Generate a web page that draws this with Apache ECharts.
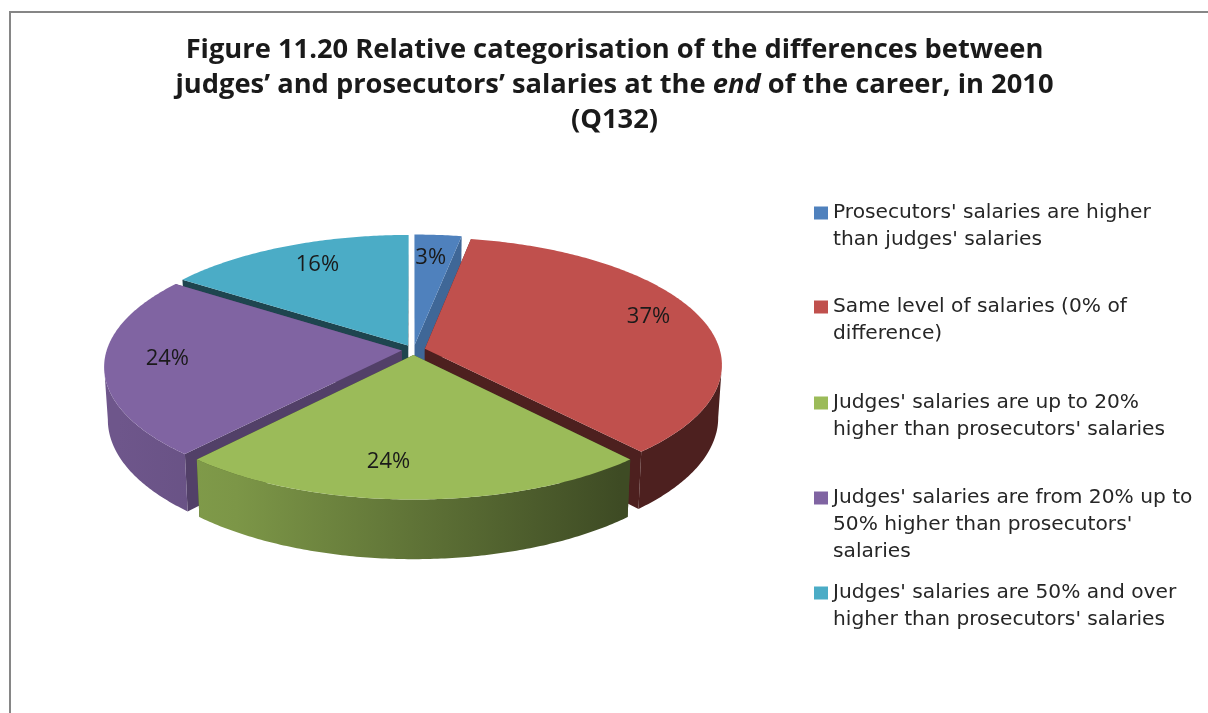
<!DOCTYPE html>
<html><head><meta charset="utf-8">
<style>html,body{margin:0;padding:0;background:#fff}#c{width:1208px;height:713px}</style>
<script src="https://cdn.jsdelivr.net/npm/echarts@6/dist/echarts.min.js"></script>
</head><body><div id="c"></div>
<script>
const titleLines = [
  "Figure 11.20 Relative categorisation of the differences between",
  "judges’ and prosecutors’ salaries at the {i|end} of the career, in 2010",
  "(Q132)"
];
const categories = [
  "Prosecutors' salaries are higher\nthan judges' salaries",
  "Same level of salaries (0% of\ndifference)",
  "Judges' salaries are up to 20%\nhigher than prosecutors' salaries",
  "Judges' salaries are from 20% up to\n50% higher than prosecutors'\nsalaries",
  "Judges' salaries are 50% and over\nhigher than prosecutors' salaries"
];
const values = [3, 37, 24, 24, 16];
const colors = ['#4f81bd', '#c0504d', '#9bbb59', '#8064a2', '#4bacc6'];

// 3D pie projection settings
const CX = 413.5, CY = 350, RX = 295, RY = 125.3, K = 0.1235, EXPLODE = 0.04, DEPTH = 52, SHRINK = 0.012;
const LABEL_R = 0.84;
const LABEL_NUDGE = [[-4, 7], [-8, -4], [-25, -12], [15, -5], [14, 4]];
const LEGEND_FIRST_LINE_Y = [208, 302, 398, 493, 588];
const LEGEND_LINE = 27;
const paintOrder = [4, 0, 3, 1, 2];
const total = values.reduce((a, b) => a + b, 0);

function project(ux, uy, low) {
  const s = 1 / (1 - K * uy);
  const f = low ? 1 - SHRINK : 1;
  return [CX + RX * ux * s * f, CY + RY * uy * s + (low ? DEPTH * s : 0)];
}
function shade(hex, f) {
  const n = parseInt(hex.slice(1), 16);
  const c = [n >> 16, (n >> 8) & 255, n & 255].map(v => Math.round(v * f));
  return 'rgb(' + c.join(',') + ')';
}
function renderSlice(index) {
  return function (params, api) {
    const v = api.value(0);
    let before = 0;
    for (let i = 0; i < index; i++) before += values[i];
    const a0 = before / total * 2 * Math.PI, a1 = (before + v) / total * 2 * Math.PI;
    const mid = (a0 + a1) / 2;
    const ox = EXPLODE * Math.sin(mid), oy = -EXPLODE * Math.cos(mid);
    const unit = a => [ox + Math.sin(a), oy - Math.cos(a)];
    const steps = Math.max(6, Math.ceil((a1 - a0) * 90));
    const topArc = [], wallTop = [], wallLow = [];
    for (let i = 0; i <= steps; i++) {
      const a = a0 + (a1 - a0) * i / steps;
      const p = unit(a);
      topArc.push(project(p[0], p[1], false));
      if (-Math.cos(a) >= K) {          // only the near side of the rim is visible
        wallTop.push(project(p[0], p[1], false));
        wallLow.push(project(p[0], p[1], true));
      }
    }
    const pA = unit(a0), pB = unit(a1);
    const apexTop = project(ox, oy, false), apexLow = project(ox, oy, true);
    const col = colors[index];
    const wallFill = new echarts.graphic.LinearGradient(CX - RX, 0, CX + RX, 0, [
      { offset: 0, color: shade(col, 0.86) },
      { offset: 0.2, color: shade(col, 0.8) },
      { offset: 0.85, color: shade(col, 0.4) },
      { offset: 1, color: shade(col, 0.4) }
    ], true);
    const sideFill = shade(col, index === 0 ? 0.8 : index === 3 ? 0.64 : 0.4);
    const face = (pts, fill) => ({ type: 'polygon', shape: { points: pts }, style: { fill: fill } });
    const lp = [ox + LABEL_R * Math.sin(mid), oy - LABEL_R * Math.cos(mid)];
    const lxy = project(lp[0], lp[1], false);
    const children = [
      face([apexTop, project(pA[0], pA[1], false), project(pA[0], pA[1], true), apexLow], sideFill),
      face([apexTop, project(pB[0], pB[1], false), project(pB[0], pB[1], true), apexLow], sideFill)
    ];
    if (wallTop.length > 1) children.push(face(wallTop.concat(wallLow.slice().reverse()), wallFill));
    children.push(face([apexTop].concat(topArc), col));
    children.push({
      type: 'text',
      x: lxy[0] + LABEL_NUDGE[index][0],
      y: lxy[1] + LABEL_NUDGE[index][1],
      style: {
        text: v + '%', fill: '#1a1a1a', font: '22px "Open Sans"',
        align: 'center', verticalAlign: 'middle'
      }
    });
    return { type: 'group', children: children };
  };
}

const chart = echarts.init(document.getElementById('c'), null, { renderer: 'canvas' });
chart.setOption({
  animation: false,
  backgroundColor: '#fff',
  graphic: [{
    type: 'rect', silent: true,
    shape: { x: 10, y: 12, width: 1400, height: 900 },
    style: { fill: 'none', stroke: '#868686', lineWidth: 2 }
  }],
  title: {
    text: titleLines.join('\n'),
    left: 609.5, top: 28, textAlign: 'center',
    textStyle: {
      fontFamily: 'Open Sans', fontWeight: 'bold', fontSize: 27.3, lineHeight: 35, color: '#1a1a1a',
      rich: { i: { fontFamily: 'Open Sans', fontWeight: 'bold', fontStyle: 'italic', fontSize: 27.3, lineHeight: 35, color: '#1a1a1a' } }
    }
  },
  legend: categories.map((name, i) => {
    const n = name.split('\n').length;
    return {
      data: [name],
      orient: 'vertical',
      left: 809, top: LEGEND_FIRST_LINE_Y[i] - (2 * n - 1) * LEGEND_LINE / 2,
      padding: 5,
      itemWidth: 14, itemHeight: 13, itemGap: 0,
      icon: 'rect',
      selectedMode: false,
      // blank lines above the text keep the swatch level with the first line
      formatter: t => '\n'.repeat(n - 1) + t,
      textStyle: { fontFamily: 'DejaVu Sans', fontSize: 20.2, lineHeight: LEGEND_LINE, color: '#262626' }
    };
  }),
  series: categories.map((name, i) => ({
    type: 'custom',
    name: name,
    coordinateSystem: 'none',
    z: 2 + paintOrder.indexOf(i),
    itemStyle: { color: colors[i] },
    silent: true,
    data: [[values[i]]],
    renderItem: renderSlice(i)
  }))
});
</script></body></html>
